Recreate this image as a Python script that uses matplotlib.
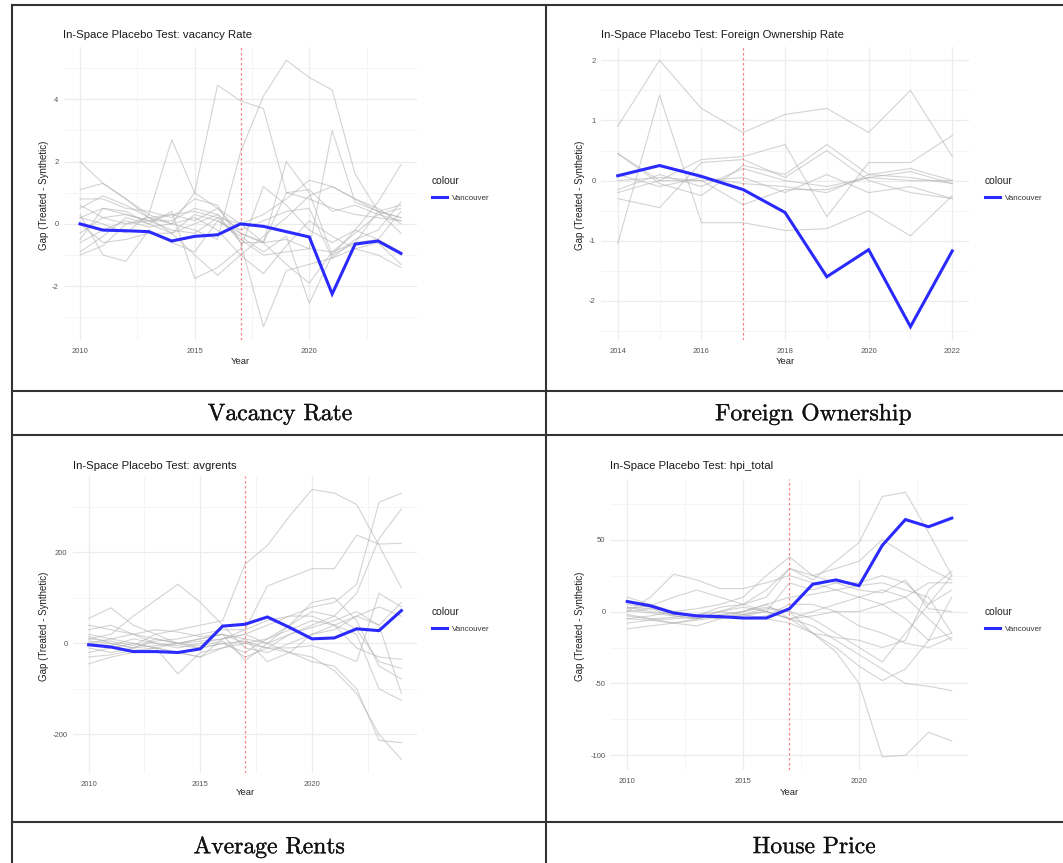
import matplotlib
matplotlib.use("Agg")
import matplotlib.pyplot as plt
import matplotlib.patheffects as pe
from matplotlib.lines import Line2D

# ---- data ----
years_long = list(range(2010, 2025))
years_fo = list(range(2014, 2023))

vacancy_vancouver = [0.0, -0.2, -0.22, -0.25, -0.55, -0.4, -0.35, 0.0, -0.08, -0.25, -0.42, -2.25, -0.65, -0.55, -0.95]
vacancy_placebos = [
    [2.0, 1.3, 0.8, 0.3, 0.0, 1.0, 4.45, 3.95, 3.7, 1.0, 0.8, 0.5, 0.3, 0.2, 0.1],
    [0.5, 0.9, 0.6, 0.2, 0.0, -0.2, -0.5, 2.3, 4.1, 5.25, 4.7, 4.3, 1.6, 0.4, 0.2],
    [0.2, 0.0, -0.3, 0.3, 2.7, 1.0, 0.5, 0.0, -0.6, -0.5, -0.8, -0.9, -0.3, 0.3, 0.5],
    [-0.5, 0.5, 0.3, 0.1, -0.2, -0.3, 0.2, -0.5, -1.0, -0.9, -0.8, 3.0, 0.7, 0.4, -0.3],
    [0.0, -0.6, -0.5, -0.3, -0.3, 0.0, 0.3, -0.6, -3.3, -1.5, -1.3, -1.1, -0.8, -0.6, -1.3],
    [1.1, 1.3, 0.8, 0.2, -0.3, -1.0, -1.65, -1.0, -0.4, 0.2, 0.9, 1.2, 0.8, 0.5, 0.0],
    [-0.9, -0.4, 0.2, 0.0, 0.4, -1.75, -1.4, -0.8, 1.2, 0.6, -0.2, -0.6, -0.2, 0.7, 1.9],
    [0.3, -1.0, -1.2, -0.2, -0.6, -0.9, 0.1, -0.3, -0.6, 2.0, 1.0, -1.0, -0.6, -0.5, 0.4],
    [-1.0, -0.7, 0.0, 0.2, 0.3, 0.1, 0.5, -0.3, -0.6, -1.3, -1.9, -0.9, -0.6, 0.4, 0.6],
    [0.6, 0.2, 0.3, 0.1, 0.1, 0.5, 0.3, -0.2, 0.1, 0.4, 0.5, -1.1, -0.5, -0.2, 0.7],
    [-0.3, 0.2, 0.0, 0.1, 0.3, 0.4, 0.2, 0.0, 0.3, 0.8, 1.4, 1.2, 0.8, 0.4, 0.2],
    [0.2, 0.5, 0.4, 0.0, -0.3, 0.3, 0.1, -0.4, -0.9, -0.4, -2.55, -1.0, -0.2, -0.5, -0.9],
    [-0.6, -0.2, 0.1, -0.1, 0.0, 0.2, -0.2, -1.0, -1.6, -0.7, 0.1, -0.4, -0.8, -1.0, -1.4],
    [0.8, 0.8, 0.5, 0.4, 0.2, 0.8, 0.6, -0.6, -0.6, 1.0, 1.1, 0.4, 0.6, 0.3, 0.1],
]

fo_vancouver = [0.08, 0.25, 0.07, -0.15, -0.53, -1.6, -1.15, -2.43, -1.17]
fo_placebos = [
    [0.9, 2.0, 1.2, 0.8, 1.1, 1.2, 0.8, 1.5, 0.4],
    [-1.05, 1.42, -0.7, -0.7, -0.83, -0.8, -0.5, -0.92, -0.25],
    [0.45, 0.0, 0.35, 0.4, 0.6, -0.6, 0.3, 0.3, 0.75],
    [0.45, -0.05, -0.25, 0.25, 0.1, 0.6, 0.1, 0.2, 0.0],
    [-0.3, -0.45, 0.3, 0.35, 0.05, 0.5, 0.0, -0.2, -0.3],
    [-0.2, 0.0, 0.0, -0.4, -0.15, -0.15, 0.05, 0.15, -0.05],
    [0.0, 0.05, 0.0, 0.05, -0.2, 0.1, -0.2, -0.1, -0.3],
    [-0.15, 0.1, -0.1, 0.2, 0.0, -0.1, 0.05, 0.0, 0.0],
    [0.1, -0.1, 0.05, -0.05, -0.1, -0.2, 0.1, 0.05, -0.05],
]

rents_vancouver = [-3, -8, -18, -18, -20, -12, 38, 42, 58, 35, 10, 12, 32, 28, 72]
rents_placebos = [
    [10, 5, -5, 20, 30, 40, 50, 174, 215, 280, 338, 330, 305, 215, 122],
    [40, 30, 20, 0, -10, 0, 10, 30, 126, 145, 164, 164, 238, 218, 220],
    [-20, -10, 0, -10, -20, -30, 10, 20, 40, 60, 80, 90, 130, 310, 330],
    [5, 0, -10, -5, 0, 10, 20, 10, 0, 20, 40, 60, 110, 230, 295],
    [10, 20, 60, 95, 130, 90, 40, -10, -20, 0, 20, 40, 60, 80, 60],
    [55, 78, 40, 20, 0, -10, 0, 5, -10, -20, -30, -60, -110, -200, -255],
    [30, 40, 20, 10, 0, 5, 10, 20, 0, -20, -40, -50, -100, -213, -218],
    [-45, -30, -20, -10, -67, -20, -10, 0, 10, 30, 50, 40, 20, -100, -125],
    [20, 10, 0, -10, -20, -30, -10, 10, -40, -20, 20, 30, 60, 40, -110],
    [0, -5, 10, 0, -5, -10, 0, -20, 10, 40, 90, 100, 50, -50, -78],
    [-10, -20, -10, 10, 0, 10, 20, -38, 0, 40, 70, 60, 30, -40, -55],
    [15, 0, -10, 5, 10, 20, 30, 30, 50, 60, 60, 40, -10, -30, -35],
    [0, 10, 20, 30, 25, 15, 20, 0, -10, -10, -5, -20, -40, 110, 80],
    [-30, -25, -15, -10, 0, -5, 5, -30, -10, 20, 35, 50, 70, 40, 90],
]

hpi_vancouver = [7, 4, -1, -3, -3.5, -4.5, -4.5, 2, 19, 22, 18, 46, 64, 59, 65]
hpi_placebos = [
    [2, 4, 10, 15, 10, 5, 15, 30, 22, 35, 48, 80, 83, 55, 25],
    [0, 10, 26, 22, 16, 16, 20, 25, 20, 15, 10, 5, -5, -20, -15],
    [-5, -3, 0, 2, 5, 10, 25, 38, 25, 30, 35, 50, 40, 30, 22],
    [-12, -10, -8, -5, -3, 0, 5, -5, -15, -28, -50, -101, -100, -84, -90],
    [3, 2, -3, -5, 0, 3, 0, -5, -10, -20, -30, -40, -50, -52, -55],
    [-3, -5, -4, -2, 0, -2, -5, -8, -15, -25, -38, -48, -40, -20, 10],
    [5, 3, 0, -3, -5, -2, 2, 0, -5, -15, -25, -35, -15, 5, 15],
    [10, 5, 0, -5, 0, 5, 10, 30, 25, 20, 20, 25, 20, 5, 25],
    [-2, -5, -8, -10, -5, 0, 5, 10, 12, 15, 18, 20, 15, 10, -15],
    [0, 2, 0, -3, -5, -3, 0, -5, -3, 0, 0, 5, 10, -5, -20],
    [-8, -6, -5, -4, -3, -5, -3, 5, 5, 0, -10, -15, -22, -25, -18],
    [3, 0, -2, -3, 3, 5, 0, -5, 0, 5, 10, 15, 10, 20, 20],
    [1, -1, -3, -5, -2, 0, 3, 0, -15, -18, -20, -25, -20, 15, 28],
    [-5, -6, -8, -6, -4, -2, 0, 20, 15, 20, 15, 13, 22, 2, 0],
]

treatment_year = 2017
titles = ["In-Space Placebo Test: vacancy Rate", "In-Space Placebo Test: Foreign Ownership Rate",
          "In-Space Placebo Test: avgrents", "In-Space Placebo Test: hpi_total"]
captions = ["Vacancy Rate", "Foreign Ownership", "Average Rents", "House Price"]

# ---- layout (pixels in a 1063x863 canvas) ----
W, H = 1063, 863
SANS = "Liberation Sans"

plt.rcParams["axes.unicode_minus"] = False

fig = plt.figure(figsize=(W / 100, H / 100), dpi=100)


def fx(x):
    return x / W


def fy(y):
    return 1 - y / H


def px_axes(left, top, right, bottom):
    return fig.add_axes([fx(left), fy(bottom), (right - left) / W, (bottom - top) / H])


panels = [
    dict(years=years_long, van=vacancy_vancouver, plc=vacancy_placebos,
         box=(64, 47, 417, 340), xt=[2010, 2015, 2020], xm=[2012.5, 2017.5, 2022.5],
         yt=[-2, 0, 2, 4], ym=[-3, -1, 1, 3, 5], title_xy=(63, 35), ylab_x=44,
         year_y=361, leg=(432, 176), cap=(280, 414)),
    dict(years=years_fo, van=fo_vancouver, plc=fo_placebos,
         box=(601, 47, 969, 340), xt=[2014, 2016, 2018, 2020, 2022], xm=[2015, 2017, 2019, 2021],
         yt=[-2, -1, 0, 1, 2], ym=[-2.5, -1.5, -0.5, 0.5, 1.5], title_xy=(601, 35), ylab_x=580,
         year_y=361, leg=(985, 176), cap=(813, 414)),
    dict(years=years_long, van=rents_vancouver, plc=rents_placebos,
         box=(73, 476, 417, 773), xt=[2010, 2015, 2020], xm=[2012.5, 2017.5, 2022.5],
         yt=[-200, 0, 200], ym=[-100, 100, 300], title_xy=(73, 466), ylab_x=44,
         year_y=792, leg=(432, 607), cap=(269, 847)),
    dict(years=years_long, van=hpi_vancouver, plc=hpi_placebos,
         box=(611, 479, 968, 770), xt=[2010, 2015, 2020], xm=[2012.5, 2017.5, 2022.5],
         yt=[-100, -50, 0, 50], ym=[-75, -25, 25, 75], title_xy=(610, 466), ylab_x=580,
         year_y=792, leg=(985, 607), cap=(814, 847)),
]

for i, p in enumerate(panels):
    ax = px_axes(*p["box"])
    for series in p["plc"]:
        ax.plot(p["years"], series, color="#b0b0b0", lw=0.8, alpha=0.55, zorder=2)
    van_line, = ax.plot(p["years"], p["van"], color="#2a2aff", lw=2.2, zorder=4,
                        solid_joinstyle="miter", label="Vancouver")
    ax.axvline(treatment_year, color="#ff5a5a", lw=0.9, ls=(0, (2, 2)), alpha=0.75, zorder=3)

    ax.margins(x=0.05, y=0.05)
    ax.set_xticks(p["xt"])
    ax.set_xticks(p["xm"], minor=True)
    ax.set_yticks(p["yt"])
    ax.set_yticks(p["ym"], minor=True)
    ax.grid(True, which="major", color="#ececec", lw=0.9, zorder=0)
    ax.grid(True, which="minor", color="#f4f4f4", lw=0.6, zorder=0)
    ax.set_axisbelow(True)
    for s in ax.spines.values():
        s.set_visible(False)
    ax.tick_params(which="both", length=0, labelsize=5.5, labelcolor="#555555")
    ax.tick_params(axis="x", pad=5.5)
    ax.tick_params(axis="y", pad=4)
    for lab in ax.get_xticklabels() + ax.get_yticklabels():
        lab.set_fontfamily(SANS)

    x0, y0, x1, y1 = p["box"]
    tx, ty = p["title_xy"]
    fig.text(fx(tx), fy(ty), titles[i], fontsize=8.2, family=SANS, color="#1a1a1a",
             ha="left", va="center")
    fig.text(fx(p["ylab_x"]), fy((y0 + y1) / 2 + 2), "Gap (Treated - Synthetic)", rotation=90,
             fontsize=7, family=SANS, color="#222222", ha="center", va="center")
    fig.text(fx((x0 + x1) / 2), fy(p["year_y"]), "Year", fontsize=6.8, family=SANS,
             color="#222222", ha="center", va="center")

    lx, ly = p["leg"]
    leg = ax.legend(handles=[van_line], title="colour", loc="upper left",
                    bbox_to_anchor=(fx(lx), fy(ly)), bbox_transform=fig.transFigure,
                    frameon=False, fontsize=5.8, title_fontsize=7.4, alignment="left",
                    handlelength=1.8, handletextpad=0.7, borderpad=0, borderaxespad=0,
                    labelspacing=0.3)
    leg.get_title().set_fontfamily(SANS)
    leg.get_title().set_color("#222222")
    for t in leg.get_texts():
        t.set_fontfamily(SANS)
        t.set_color("#333333")
    leg._legend_box.sep = 6

    cx, cy = p["cap"]
    fig.text(fx(cx), fy(cy), captions[i], fontsize=17, family="cmr10", color="#111111",
             ha="center", va="center",
             path_effects=[pe.withStroke(linewidth=0.2, foreground="#111111")])

# ---- table borders ----
border = dict(color="#333333", lw=1.5, transform=fig.transFigure)
fig.add_artist(Line2D([fx(12), fx(12)], [fy(5), fy(863)], **border))
fig.add_artist(Line2D([fx(546), fx(546)], [fy(5), fy(863)], **border))
for yy in (5, 391, 435, 822):
    fig.add_artist(Line2D([fx(12), fx(1063)], [fy(yy), fy(yy)], **border))

fig.savefig("out.png", dpi=100)
